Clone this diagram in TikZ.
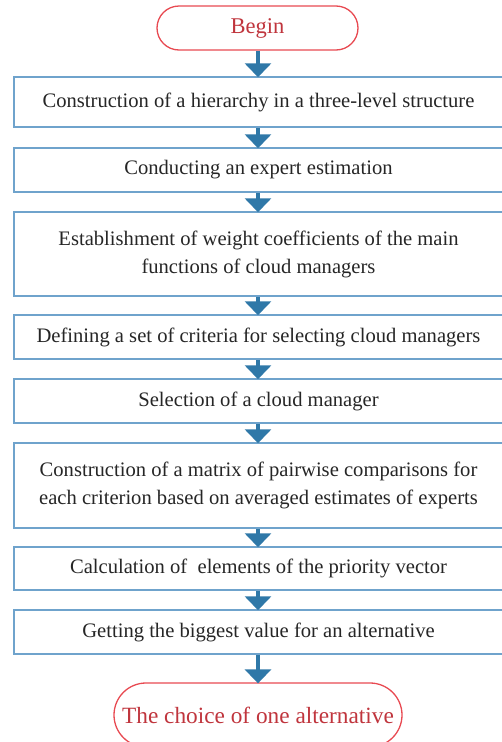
\documentclass[tikz,border=0pt]{standalone}
\usepackage{fontspec}
\setmainfont{Liberation Serif}
\usetikzlibrary{positioning, shapes.geometric, arrows.meta, calc}

\definecolor{boxblue}{HTML}{6FA3CC}
\definecolor{arrowblue}{HTML}{2F78A8}
\definecolor{termred}{HTML}{E84A52}
\definecolor{termtext}{HTML}{C0353D}

\begin{document}
\begin{tikzpicture}[
        x=1pt, y=-1pt,
        stepbox/.style={rectangle, draw=boxblue, line width=1.5pt, fill=white, minimum width=489pt, align=center, font=\fontsize{20.6}{28}\selectfont, text=black!85},
        terminal/.style={rectangle, draw=termred, line width=1.3pt, fill=white, align=center, text=termtext},
        arrow/.style={draw=arrowblue, line width=4pt, -{Triangle[width=26pt, length=14pt]}, shorten >=-1pt}
    ]
    \useasboundingbox (0,0) rectangle (502,742);

    % Start
    \node[terminal, minimum width=201pt, minimum height=44pt, rounded corners=22pt, font=\fontsize{22.5}{26}\selectfont] (begin) at (257.5, 28) {Begin};

    % Steps
    \node[stepbox, minimum height=50pt] (hierarchy) at (258.5, 102) {Construction of a hierarchy in a three-level structure};
    \node[stepbox, minimum height=44pt] (expert) at (258.5, 170) {Conducting an expert estimation};
    \node[stepbox, minimum height=84pt] (weights) at (258.5, 254) {Establishment of weight coefficients of the main\\functions of cloud managers};
    \node[stepbox, minimum height=44pt] (criteria) at (258.5, 337) {Defining a set of criteria for selecting cloud managers};
    \node[stepbox, minimum height=44pt] (select) at (258.5, 401) {Selection of a cloud manager};
    \node[stepbox, minimum height=85pt] (matrix) at (258.5, 485.5) {Construction of a matrix of pairwise comparisons for\\each criterion based on averaged estimates of experts};
    \node[stepbox, minimum height=43pt] (priority) at (258.5, 568.5) {Calculation of \ elements of the priority vector};
    \node[stepbox, minimum height=44pt] (biggest) at (258.5, 632) {Getting the biggest value for an alternative};

    % End
    \node[terminal, minimum width=288pt, minimum height=64pt, rounded corners=32pt, font=\fontsize{23.3}{27}\selectfont] (choice) at (258, 715) {The choice of one alternative};

    % Flow
    \draw[arrow] (begin.south -| 258,0) -- (hierarchy.north -| 258,0);
    \draw[arrow] (hierarchy.south -| 258,0) -- (expert.north -| 258,0);
    \draw[arrow] (expert.south -| 258,0) -- (weights.north -| 258,0);
    \draw[arrow] (weights.south -| 258,0) -- (criteria.north -| 258,0);
    \draw[arrow] (criteria.south -| 258,0) -- (select.north -| 258,0);
    \draw[arrow] (select.south -| 258,0) -- (matrix.north -| 258,0);
    \draw[arrow] (matrix.south -| 258,0) -- (priority.north -| 258,0);
    \draw[arrow] (priority.south -| 258,0) -- (biggest.north -| 258,0);
    \draw[arrow] (biggest.south -| 258,0) -- (choice.north -| 258,0);

\end{tikzpicture}
\end{document}
